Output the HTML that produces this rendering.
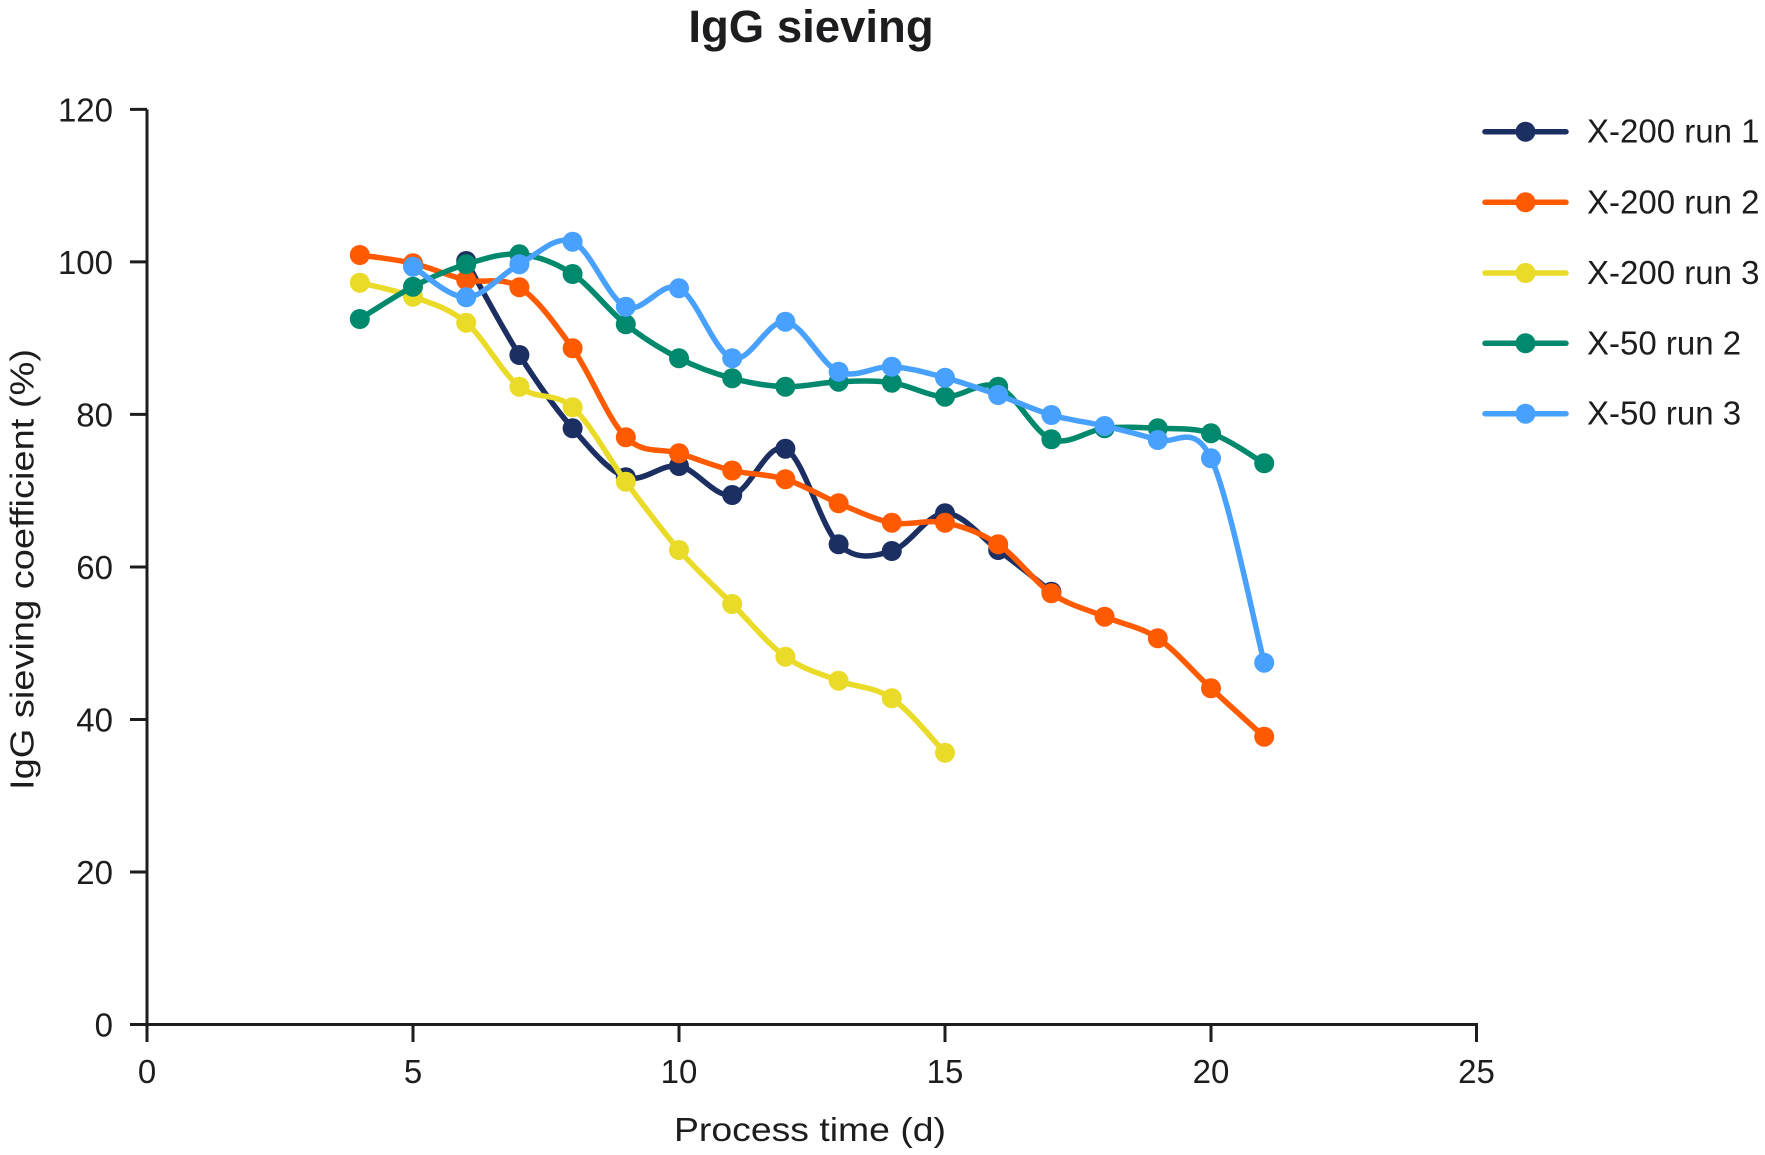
<!DOCTYPE html>
<html>
<head>
<meta charset="utf-8">
<style>
  html, body { margin: 0; padding: 0; background: #ffffff; }
  svg { display: block; }
  text { font-family: "Liberation Sans", "DejaVu Sans", sans-serif; fill: #1d1d1f; }
</style>
</head>
<body>
<svg id="chart" width="1765" height="1155" viewBox="0 0 1765 1155" xmlns="http://www.w3.org/2000/svg">
  <rect x="0" y="0" width="1765" height="1155" fill="#ffffff"/>

  <!-- Title -->
  <text x="811" y="42" font-size="45.5" font-weight="bold" text-anchor="middle">IgG sieving</text>

  <!-- Axes -->
  <g stroke="#1d1d1f" stroke-width="3" fill="none">
    <line x1="147" y1="109.4" x2="147" y2="1026"/>
    <line x1="130" y1="1024.5" x2="1478" y2="1024.5"/>
    <!-- y ticks -->
    <line x1="130" y1="109.4" x2="147" y2="109.4"/>
    <line x1="130" y1="261.9" x2="147" y2="261.9"/>
    <line x1="130" y1="414.4" x2="147" y2="414.4"/>
    <line x1="130" y1="567" x2="147" y2="567"/>
    <line x1="130" y1="719.5" x2="147" y2="719.5"/>
    <line x1="130" y1="872" x2="147" y2="872"/>
    <!-- x ticks -->
    <line x1="147" y1="1024.5" x2="147" y2="1042"/>
    <line x1="413" y1="1024.5" x2="413" y2="1042"/>
    <line x1="679" y1="1024.5" x2="679" y2="1042"/>
    <line x1="945" y1="1024.5" x2="945" y2="1042"/>
    <line x1="1211" y1="1024.5" x2="1211" y2="1042"/>
    <line x1="1476.5" y1="1024.5" x2="1476.5" y2="1042"/>
  </g>

  <!-- y tick labels -->
  <g font-size="33" text-anchor="end">
    <text x="113" y="121.4">120</text>
    <text x="113" y="273.9">100</text>
    <text x="113" y="426.4">80</text>
    <text x="113" y="579">60</text>
    <text x="113" y="731.5">40</text>
    <text x="113" y="884">20</text>
    <text x="113" y="1036.5">0</text>
  </g>

  <!-- x tick labels -->
  <g font-size="33" text-anchor="middle">
    <text x="147" y="1083">0</text>
    <text x="413" y="1083">5</text>
    <text x="679" y="1083">10</text>
    <text x="945" y="1083">15</text>
    <text x="1211" y="1083">20</text>
    <text x="1476.5" y="1083">25</text>
  </g>

  <!-- Axis titles -->
  <text x="674" y="1141" font-size="33" textLength="272" lengthAdjust="spacingAndGlyphs">Process time (d)</text>
  <text transform="translate(33.5,790) rotate(-90)" x="0" y="0" font-size="33" textLength="441" lengthAdjust="spacingAndGlyphs">IgG sieving coefficient (%)</text>

  <!-- Series container -->
  <g id="series"></g>

  <!-- Legend -->
  <g stroke-width="5.5" stroke-linecap="round">
    <line x1="1485" y1="131.7" x2="1566" y2="131.7" stroke="#1c2f62"/>
    <circle cx="1525.5" cy="131.7" r="10" fill="#1c2f62" stroke="none"/>
    <line x1="1485" y1="202.3" x2="1566" y2="202.3" stroke="#ff5a00"/>
    <circle cx="1525.5" cy="202.3" r="10" fill="#ff5a00" stroke="none"/>
    <line x1="1485" y1="273" x2="1566" y2="273" stroke="#eadb28"/>
    <circle cx="1525.5" cy="273" r="10" fill="#eadb28" stroke="none"/>
    <line x1="1485" y1="343.3" x2="1566" y2="343.3" stroke="#00896c"/>
    <circle cx="1525.5" cy="343.3" r="10" fill="#00896c" stroke="none"/>
    <line x1="1485" y1="413.7" x2="1566" y2="413.7" stroke="#48a1ff"/>
    <circle cx="1525.5" cy="413.7" r="10" fill="#48a1ff" stroke="none"/>
  </g>
  <g font-size="33">
    <text x="1587" y="142.7">X-200 run 1</text>
    <text x="1587" y="213.3">X-200 run 2</text>
    <text x="1587" y="284">X-200 run 3</text>
    <text x="1587" y="354.3">X-50 run 2</text>
    <text x="1587" y="424.7">X-50 run 3</text>
  </g>
</svg>

<script>
(function(){
  var NS = "http://www.w3.org/2000/svg";
  function X(t){ return 147 + 53.2*t; }
  var series = [
    {c:"#1c2f62", t0:6, y:[261,355,428.3,477.2,466,495,448.7,544.3,551,513.3,550,591.7]},
    {c:"#ff5a00", t0:4, y:[255,263.3,280,287.3,348.3,437.3,453.3,470.5,479.2,503.3,522.7,522.7,544.3,593.3,616.7,638.3,688.3,736.7]},
    {c:"#eadb28", t0:4, y:[282.7,296.7,322.7,386.7,407.3,481.7,550,604,656.7,680.7,698.3,752.7]},
    {c:"#00896c", t0:4, y:[319,286.7,264.3,254.3,274,324.3,358.3,378.3,386.7,381.7,382.7,396.7,386.7,439.3,428.3,428.3,433.3,463.3]},
    {c:"#48a1ff", t0:5, y:[266.7,297.3,264.3,241.7,306.7,288.3,358.3,321.7,371.7,366.7,377.7,395,415,426,440,458.3,662.7]}
  ];
  var g = document.getElementById("series");
  series.forEach(function(s){
    var P = s.y.map(function(v,i){ return [X(s.t0+i), v]; });
    var n = P.length;
    var d = "M" + P[0][0].toFixed(2) + "," + P[0][1].toFixed(2);
    for (var i=0;i<n-1;i++){
      var p0 = P[Math.max(0,i-1)], p1 = P[i], p2 = P[i+1], p3 = P[Math.min(n-1,i+2)];
      var c1x = p1[0] + (p2[0]-p0[0])/6, c1y = p1[1] + (p2[1]-p0[1])/6;
      var c2x = p2[0] - (p3[0]-p1[0])/6, c2y = p2[1] - (p3[1]-p1[1])/6;
      d += " C" + c1x.toFixed(2)+","+c1y.toFixed(2)+" "+c2x.toFixed(2)+","+c2y.toFixed(2)+" "+p2[0].toFixed(2)+","+p2[1].toFixed(2);
    }
    var path = document.createElementNS(NS,"path");
    path.setAttribute("d", d);
    path.setAttribute("fill","none");
    path.setAttribute("stroke", s.c);
    path.setAttribute("stroke-width","5.5");
    path.setAttribute("stroke-linejoin","round");
    path.setAttribute("stroke-linecap","round");
    g.appendChild(path);
    P.forEach(function(p){
      var c = document.createElementNS(NS,"circle");
      c.setAttribute("cx", p[0].toFixed(2));
      c.setAttribute("cy", p[1].toFixed(2));
      c.setAttribute("r","10");
      c.setAttribute("fill", s.c);
      g.appendChild(c);
    });
  });
})();
</script>
</body>
</html>
